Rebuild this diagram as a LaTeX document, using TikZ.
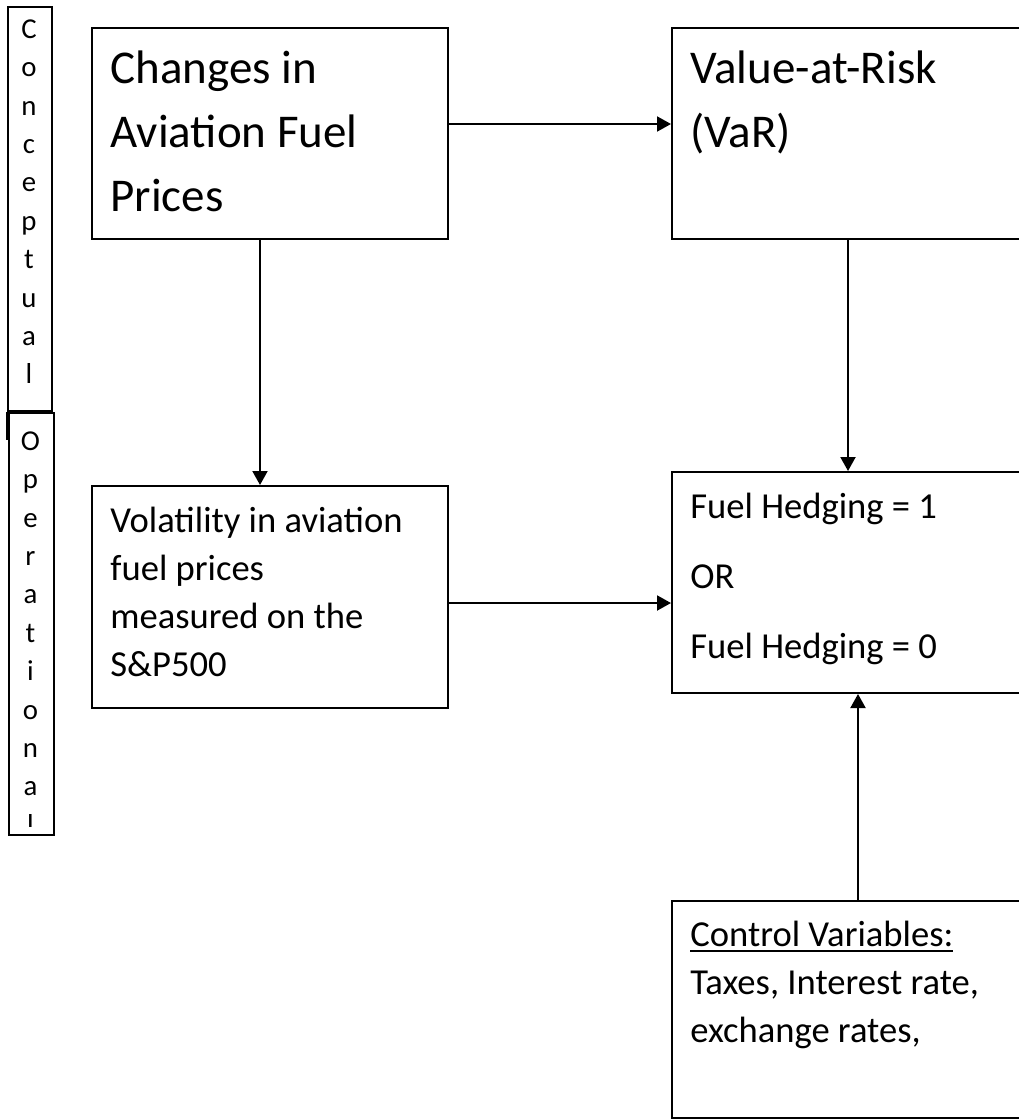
\documentclass[tikz,border=0pt]{standalone}
\usepackage{fontspec}
\setmainfont{Carlito}
\usetikzlibrary{arrows.meta}
\newcommand{\ulabel}[1]{\vtop{\hbox{#1}\kern1.7pt\hrule height 1.1pt}}

\begin{document}
\begin{tikzpicture}[x=0.5pt,y=-0.5pt]
\tikzset{edge/.style = {-{Triangle[width=7.5pt,length=7pt]}, line width=1pt}}
\tikzset{box/.style = {draw=black, line width=1pt, anchor=north west, inner sep=0pt}}
\tikzset{txt/.style = {anchor=north west, inner sep=0pt, align=left}}
\tikzset{letters/.style = {anchor=north, inner sep=0pt, align=center, font=\fontsize{14.4}{19.2}\selectfont}}
\useasboundingbox (0,0) rectangle (1018,1119);

% side labels
\node[box, minimum width=22pt, minimum height=202pt] (conc) at (7,6) {};
\node[box, minimum width=22.5pt, minimum height=211pt] (oper) at (8,412) {};
\draw[line width=1.5pt] (conc.south west) -- ++(0,28);
\node[letters] (conctxt) at (29,11) {\strut C\\o\\n\\c\\e\\p\\t\\u\\a\\l};
\begin{scope}
\clip (oper.north west) rectangle ([yshift=5pt]oper.south east);
\node[letters] (opertxt) at (30.5,423) {\strut O\\p\\e\\r\\a\\t\\i\\o\\n\\a\\l};
\end{scope}

% boxes
\node[box, minimum width=178pt, minimum height=105.5pt] (chg) at (91,27) {};
\node[box, minimum width=176pt, minimum height=105.5pt] (var) at (671,27) {};
\node[box, minimum width=178pt, minimum height=111pt] (vol) at (91,485) {};
\node[box, minimum width=176pt, minimum height=110.5pt] (fuel) at (671,471) {};
\node[box, minimum width=186pt, minimum height=108.5pt] (ctrl) at (671,900) {};

% texts
\node[txt, font=\fontsize{23.5}{32}\selectfont] (chgtxt) at (110,38) {\strut Changes in\\Aviation Fuel\\Prices};
\node[txt, font=\fontsize{23.5}{32}\selectfont] (vartxt) at (690,38) {\strut Value-at-Risk\\(VaR)};
\node[txt, font=\fontsize{18.3}{24}\selectfont] (voltxt) at (110,498) {\strut Volatility in aviation\\fuel prices\\measured on the\\S\&P500};
\node[txt, font=\fontsize{18.3}{35}\selectfont] (fueltxt) at (690,469) {\strut Fuel Hedging = 1\\OR\\Fuel Hedging = 0};
\node[txt, font=\fontsize{18.3}{24}\selectfont] (ctrltxt) at (690,912) {\strut \ulabel{Control Variables:}\\Taxes, Interest rate,\\exchange rates,};

% arrows
\draw[edge] ([yshift=4.75pt]chg.east) -- ([yshift=4.75pt]var.west);
\draw[edge] ([xshift=-5pt]chg.south) -- ([xshift=-5pt]vol.north);
\draw[edge] (var.south) -- (fuel.north);
\coordinate (vm) at ([yshift=-3pt]vol.east);
\draw[edge] (vm) -- (vm -| fuel.west);
\draw[edge] (ctrl.north) -- (ctrl.north |- fuel.south);

\end{tikzpicture}
\end{document}
